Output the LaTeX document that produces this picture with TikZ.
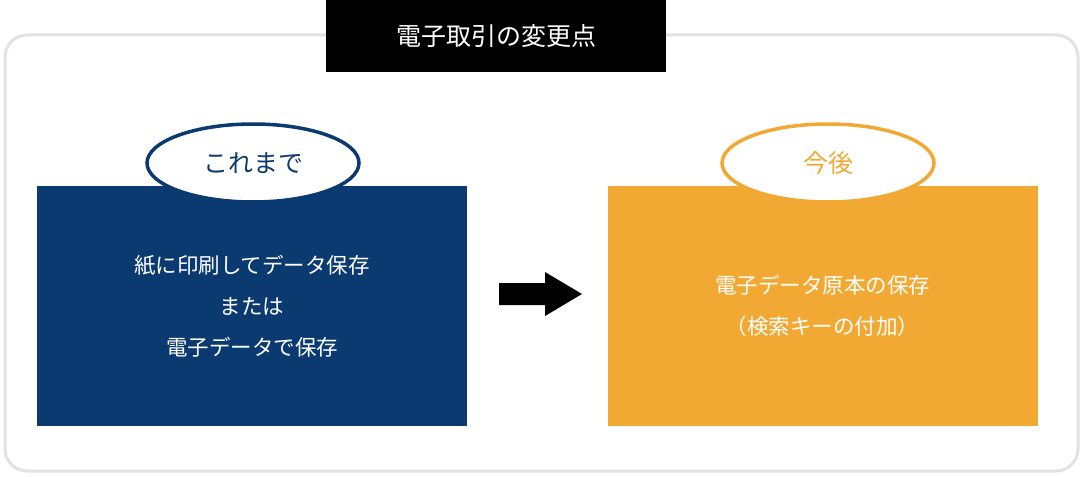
\documentclass[tikz,border=0pt]{standalone}
\usepackage{fontspec}
\setmainfont{Noto Sans CJK JP}
\definecolor{navy}{HTML}{0B3A70}
\definecolor{amber}{HTML}{F2A933}
\definecolor{frame}{HTML}{E2E2E2}
\tikzset{
  panel/.style={minimum width=430pt,minimum height=240pt,inner sep=0pt,align=center,text=white,font=\fontsize{21.5pt}{41pt}\selectfont},
  badge/.style={ellipse,minimum width=212pt,minimum height=78pt,fill=white,line width=3.5pt,font=\fontsize{25pt}{28pt}\selectfont}
}
\usetikzlibrary{shapes.geometric}
\begin{document}
\begin{tikzpicture}[x=1pt,y=-1pt]
\useasboundingbox (0,0) rectangle (1083,476);
\draw[frame,line width=3pt,rounded corners=22pt] (5,35) rectangle (1078,471);
\node[fill=black,minimum width=340pt,minimum height=72pt,inner sep=0pt,text=white,font=\fontsize{25pt}{28pt}\selectfont] (title) at (496,36) {電子取引の変更点};
\node[panel,fill=navy] (left) at (252,306) {紙に印刷してデータ保存\\または\\電子データで保存};
\node[panel,fill=amber] (right) at (822.5,306) {電子データ原本の保存\\（検索キーの付加）};
\node[badge,draw=navy,text=navy] (lb) at (253,163) {これまで};
\node[badge,draw=amber,text=amber] (rb) at (828,163) {今後};
\fill[black] (499,283) -- (545,283) -- (545,272) -- (582,294) -- (545,316) -- (545,305) -- (499,305) -- cycle;
\end{tikzpicture}
\end{document}
